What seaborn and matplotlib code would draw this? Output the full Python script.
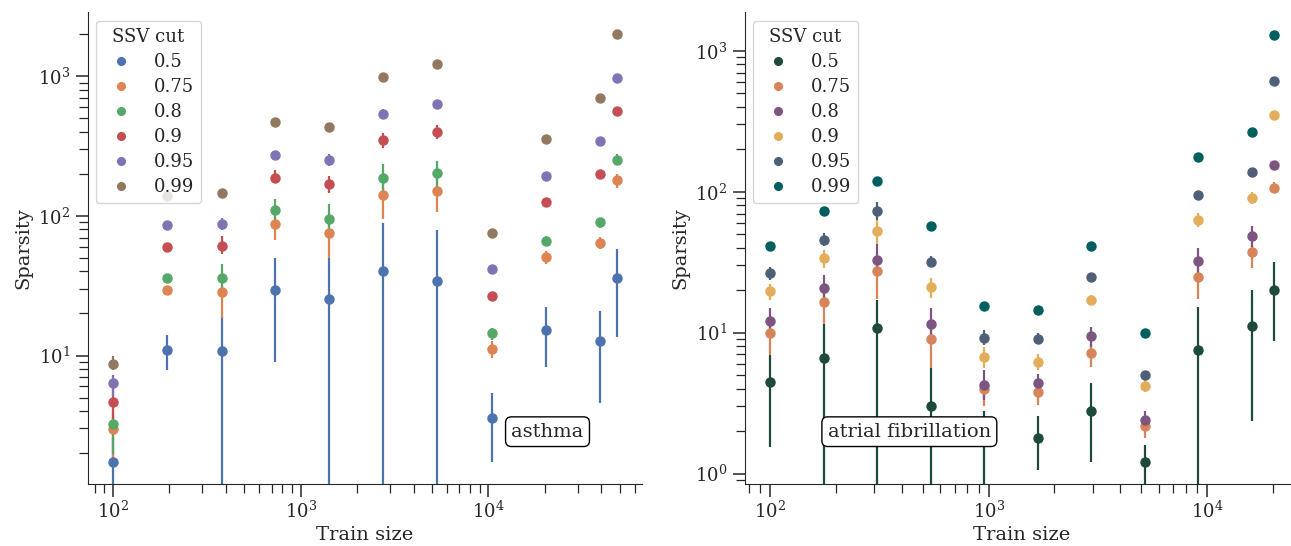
import numpy as np
import matplotlib
matplotlib.use("Agg")
import matplotlib.pyplot as plt
import seaborn as sns

# SSV cut levels (legend entries)
cuts = ["0.5", "0.75", "0.8", "0.9", "0.95", "0.99"]

# asthma: train sizes and sparsity (point, lower, upper) per cut
asthma_sizes = [100, 194, 379, 733, 1420, 2760, 5350, 10470, 20300, 39300, 48100]
asthma_mid = [
    [1.73, 10.9, 10.7, 29.6, 25.3, 40.5, 34.1, 3.54, 15.2, 12.6, 35.7],
    [2.95, 29.6, 28.7, 88, 75.7, 141, 150, 11.2, 51.1, 64.4, 181],
    [3.21, 36.1, 35.7, 111, 95.7, 187, 203, 14.4, 66.2, 89.9, 253],
    [4.68, 60, 61, 188, 169, 350, 400, 26.7, 126, 199, 565],
    [6.38, 86.3, 88, 274, 250, 540, 638, 41.5, 194, 342, 966],
    [8.65, 138, 147, 470, 433, 989, 1230, 75.2, 354, 700, 2018],
]
asthma_lo = [
    [0.1, 7.85, 0.1, 9.0, 0.1, 0.1, 0.1, 1.73, 8.3, 4.54, 13.6],
    [1.70, 28, 18.6, 67.5, 49.7, 94.6, 106, 9.6, 45, 58, 159],
    [1.97, 34, 28.7, 91, 76.6, 148, 162, 13, 61, 82, 236],
    [3.5, 56, 53, 171, 146, 305, 356, 25.5, 120, 190, 540],
    [5.1, 82, 79, 260, 228, 498, 600, 40, 187, 330, 930],
    [7.85, 133, 141, 455, 420, 960, 1190, 73, 343, 680, 1960],
]
asthma_hi = [
    [2.6, 14.0, 19.2, 50.3, 50, 88.3, 79.6, 5.40, 22.1, 20.9, 57.9],
    [3.6, 31.5, 32, 102, 91, 176, 192, 12.8, 56, 71, 201],
    [4.0, 38.5, 45, 132, 121, 235, 249, 15.8, 72, 97, 280],
    [6.2, 64, 72, 212, 194, 396, 449, 28, 132, 208, 590],
    [7.2, 91, 96, 290, 280, 582, 680, 43, 201, 355, 1000],
    [9.9, 143, 153, 485, 446, 1020, 1270, 77.5, 365, 720, 2080],
]

# atrial fibrillation
af_sizes = [100, 176, 309, 544, 956, 1680, 2944, 5180, 9100, 16000, 20100]
af_mid = [
    [4.46, 6.61, 10.8, 3.0, 2.0, 1.79, 2.78, 1.2, 7.53, 11.2, 20.2],
    [9.95, 16.6, 27.2, 9.03, 3.96, 3.80, 7.2, 2.19, 24.8, 37.2, 107],
    [12.0, 20.6, 32.8, 11.5, 4.27, 4.38, 9.4, 2.4, 32.4, 48.5, 155],
    [19.9, 33.7, 52.4, 21, 6.71, 6.17, 17, 4.19, 63, 89.8, 353],
    [26.4, 45.6, 73.1, 31.9, 9.18, 9.07, 25, 5.0, 95.5, 139, 610],
    [41.2, 73.1, 120, 57, 15.5, 14.4, 41.2, 9.95, 177, 264, 1291],
]
af_lo = [
    [1.55, 0.1, 0.1, 0.1, 0.1, 1.06, 1.2, 0.1, 0.1, 2.35, 8.67],
    [6.98, 11.5, 17.2, 5.57, 3.03, 3.08, 5.66, 1.79, 17.4, 28.6, 97.3],
    [9.8, 16.7, 25.5, 8.9, 3.3, 3.7, 7.96, 2.04, 25.5, 40.7, 145],
    [17, 28.6, 42.6, 17.7, 5.57, 5.4, 16, 3.8, 56, 82, 335],
    [23.7, 41.4, 63.4, 29, 8.2, 8.3, 23.5, 4.7, 90, 132, 585],
    [39.5, 70, 109, 54, 14.7, 13.8, 39.5, 9.5, 170, 255, 1250],
]
af_hi = [
    [6.98, 11.5, 17, 5.57, 2.78, 2.55, 4.38, 1.59, 15.1, 20.1, 31.7],
    [11.5, 20.4, 34, 10.9, 4.5, 4.38, 8.4, 2.48, 28.6, 42.6, 117],
    [14.9, 25.5, 42.6, 14.9, 5.4, 5.1, 11, 2.78, 39.8, 57.3, 165],
    [22.2, 38.5, 63.4, 24.5, 7.96, 7, 18.5, 4.6, 70.3, 98.9, 375],
    [29.4, 50.6, 84.4, 34.9, 10.4, 9.9, 26.5, 5.3, 101, 146, 640],
    [43, 76, 127, 60, 16.3, 15.1, 43, 10.4, 184, 274, 1330],
]

af_colors = ["#1d4a3b", "#d8845a", "#7d5581", "#e3ad5a", "#4f5f78", "#005f5e"]

sns.set_style("ticks")
plt.rcParams["font.family"] = ["DejaVu Serif"]
plt.rcParams["mathtext.fontset"] = "dejavuserif"

fig = plt.figure(figsize=(12.91, 5.46), dpi=100)
ax1 = fig.add_axes([87.7 / 1291, 62.5 / 546, 554 / 1291, 471 / 546])
ax2 = fig.add_axes([744.8 / 1291, 62.5 / 546, 554 / 1291, 471 / 546])


def draw_panel(ax, sizes, mid, lo, hi, colors, name, ylim):
    handles = []
    for i, cut in enumerate(cuts):
        m = np.array(mid[i])
        err = [m - np.array(lo[i]), np.array(hi[i]) - m]
        cont = ax.errorbar(sizes, m, yerr=err, fmt="o", color=colors[i],
                           ms=6.5, elinewidth=1.6, capsize=0, label=cut)
        handles.append(cont[0])
    ax.set_xscale("log")
    ax.set_yscale("log")
    ax.set_ylim(*ylim)
    ax.set_xlabel("Train size", fontsize=14, labelpad=3)
    ax.set_ylabel("Sparsity", fontsize=14, labelpad=4)
    ax.tick_params(axis="both", which="major", labelsize=13, length=9, width=1.1)
    ax.tick_params(axis="both", which="minor", length=6.5, width=0.9)
    ax.legend(handles, cuts, title="SSV cut", loc="upper left",
              fontsize=13, title_fontsize=13, markerscale=0.85,
              labelspacing=0.39, borderaxespad=0.45)
    ax.text(name[1], 0.11, name[0], transform=ax.transAxes, fontsize=14,
            ha="center", va="center",
            bbox=dict(boxstyle="round,pad=0.3", fc="white", ec="black"))
    sns.despine(ax=ax)


draw_panel(ax1, asthma_sizes, asthma_mid, asthma_lo, asthma_hi,
           sns.color_palette("deep", 6), ("asthma", 0.83), (1.21, 2870))
draw_panel(ax2, af_sizes, af_mid, af_lo, af_hi,
           af_colors, ("atrial fibrillation", 0.297), (0.85, 1870))

fig.savefig("out.png", dpi=100)
